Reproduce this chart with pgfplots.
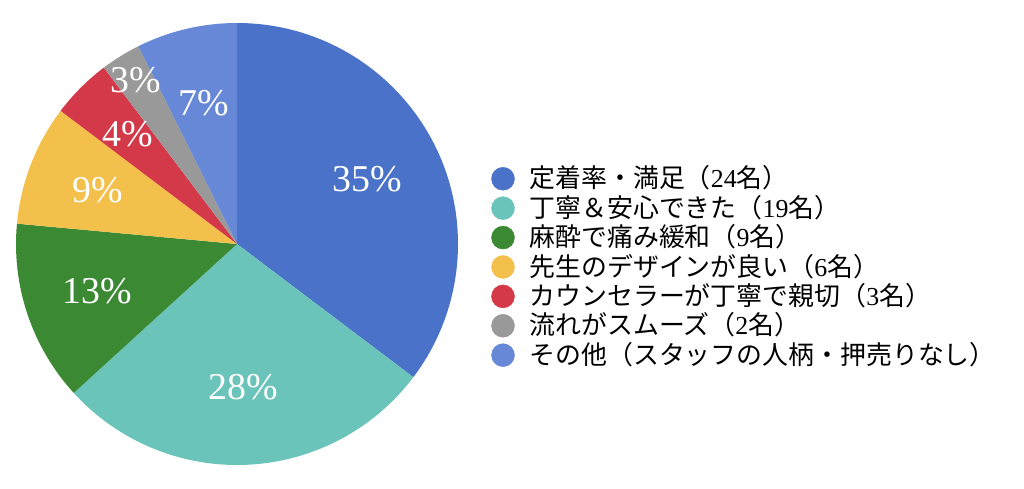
\documentclass[border=0pt]{standalone}
\usepackage{fontspec}
\setmainfont{Liberation Serif}
\newfontfamily\cjk{Noto Sans CJK JP}
\usepackage{pgfplots}
\usepackage{pgfplotstable}
\pgfplotsset{compat=1.18}

\definecolor{slice0}{HTML}{4A72C8}
\definecolor{slice1}{HTML}{6AC4B9}
\definecolor{slice2}{HTML}{3B8A33}
\definecolor{slice3}{HTML}{F3C04B}
\definecolor{slice4}{HTML}{D4394A}
\definecolor{slice5}{HTML}{999999}
\definecolor{slice6}{HTML}{6688D6}

% n = count, pct = printed share, r = label distance
\pgfplotstableread{
n  pct r
24 35 0.66
19 28 0.65
9  13 0.665
6  9  0.675
3  4  0.70
2  3  0.87
5  7  0.655
}\piedata
\pgfplotstablecreatecol[create col/expr accum={\pgfmathaccuma + \thisrow{n}}{0}]{cum}\piedata
\pgfplotstablecreatecol[create col/expr={90-360*\thisrow{cum}/68}]{ea}\piedata
\pgfplotstablecreatecol[create col/expr={\thisrow{ea}+360*\thisrow{n}/68}]{sa}\piedata
\pgfplotstablecreatecol[create col/expr={(\thisrow{sa}+\thisrow{ea})/2}]{mid}\piedata

% one wedge per data point, drawn around the point (the pie centre)
\pgfdeclareplotmark{wedge}{%
  \pgfpathmoveto{\pgfpointorigin}%
  \pgfpathlineto{\pgfpointpolar{\sa}{221bp}}%
  \pgfpatharc{\sa}{\ea}{221bp}%
  \pgfpathclose
  \pgfsetfillcolor{slice\idx}%
  \pgfusepath{fill}}

\begin{document}
\begin{tikzpicture}
\begin{axis}[
  width=1024bp, height=489bp, scale only axis,
  xmin=-1.0724, xmax=3.5611,
  ymin=-1.1086, ymax=1.1041,
  hide axis, clip=false,
  legend image code/.code={%
    \fill[#1, overlay] (0bp,2.9bp) circle (11.5bp);
    \path[draw=none, fill=none] (-11.5bp,0bp) rectangle (11.5bp,10bp);},
  legend style={at={(0.48,0.6585)}, anchor=north west,
    draw=none, fill=none, inner sep=0pt, outer sep=0pt,
    row sep=0pt, /tikz/column sep=15bp,
    font=\fontsize{26}{29}\selectfont,
    nodes={inner sep=0pt, text height=21bp, text depth=8.4bp}},
  legend cell align=left,
]
\addplot[scatter, only marks, mark=wedge, forget plot,
  point meta=explicit,
  visualization depends on={\thisrow{sa} \as \sa},
  visualization depends on={\thisrow{ea} \as \ea},
  visualization depends on={value \coordindex \as \idx}]
  table[x expr=0, y expr=0, meta=n] {\piedata};

\addplot[draw=none, mark=none, forget plot,
  point meta=explicit symbolic,
  nodes near coords={\pgfplotspointmeta\%},
  every node near coord/.append style={anchor=center, text=white,
    inner sep=0pt, font=\fontsize{38}{38}\selectfont}]
  table[x expr={\thisrow{r}*cos(\thisrow{mid})},
        y expr={\thisrow{r}*sin(\thisrow{mid})}, meta=pct] {\piedata};

\addlegendimage{slice0}\addlegendentry{\cjk 定着率・満足（\textrm{24}名）}
\addlegendimage{slice1}\addlegendentry{\cjk 丁寧＆安心できた（\textrm{19}名）}
\addlegendimage{slice2}\addlegendentry{\cjk 麻酔で痛み緩和（\textrm{9}名）}
\addlegendimage{slice3}\addlegendentry{\cjk 先生のデザインが良い（\textrm{6}名）}
\addlegendimage{slice4}\addlegendentry{\cjk カウンセラーが丁寧で親切（\textrm{3}名）}
\addlegendimage{slice5}\addlegendentry{\cjk 流れがスムーズ（\textrm{2}名）}
\addlegendimage{slice6}\addlegendentry{\cjk その他（スタッフの人柄・押売りなし）}
\end{axis}
\pgfresetboundingbox
\path (current axis.south west) rectangle (current axis.north east);
\end{tikzpicture}
\end{document}
